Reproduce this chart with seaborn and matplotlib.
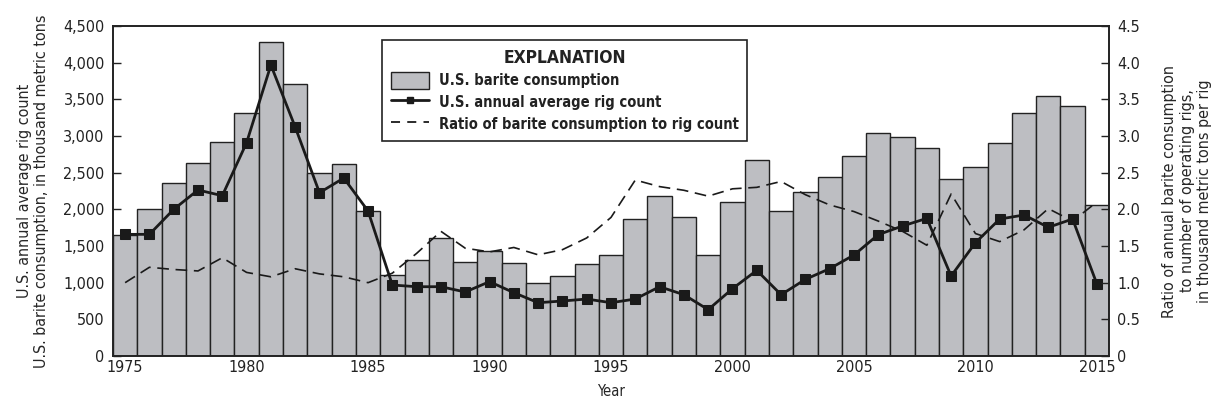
import numpy as np
import pandas as pd
import matplotlib
matplotlib.use('Agg')
import matplotlib.pyplot as plt
import seaborn as sns
from matplotlib import font_manager
from matplotlib.lines import Line2D
from matplotlib.patches import Patch
from matplotlib.ticker import FuncFormatter, MultipleLocator

years = list(range(1975, 2016))
barite = [1650, 2000, 2355, 2627, 2923, 3309, 4277, 3709, 2491, 2623,
          1982, 1100, 1305, 1609, 1282, 1436, 1273, 1000, 1091, 1255,
          1373, 1873, 2182, 1891, 1373, 2105, 2668, 1982, 2232, 2445,
          2727, 3036, 2982, 2841, 2409, 2573, 2909, 3309, 3550, 3405,
          2064]
rigs = [1659, 1659, 2000, 2264, 2186, 2909, 3968, 3123, 2227, 2427,
        1977, 968, 945, 945, 873, 1014, 864, 727, 750, 777,
        727, 777, 945, 836, 632, 918, 1168, 836, 1045, 1191,
        1377, 1655, 1773, 1877, 1091, 1545, 1868, 1923, 1755, 1868,
        982]
ratio = [1.00, 1.21, 1.18, 1.16, 1.34, 1.14, 1.08, 1.19, 1.12, 1.08,
         1.00, 1.13, 1.40, 1.70, 1.47, 1.42, 1.48, 1.38, 1.45, 1.61,
         1.89, 2.40, 2.31, 2.26, 2.18, 2.28, 2.30, 2.38, 2.20, 2.06,
         1.97, 1.84, 1.70, 1.51, 2.21, 1.67, 1.56, 1.72, 2.01, 1.84,
         2.10]

df = pd.DataFrame({'year': years, 'barite': barite, 'rigs': rigs, 'ratio': ratio})

sns.set_theme(style='white')
# condensed face if one is around, like the original's Univers Condensed
names = {f.name for f in font_manager.fontManager.ttflist}
if 'Liberation Sans Narrow' in names:
    plt.rcParams['font.family'] = ['Liberation Sans Narrow', 'DejaVu Sans']
else:
    plt.rcParams['font.family'] = ['DejaVu Sans']
    plt.rcParams['font.stretch'] = 'condensed'
plt.rcParams['text.color'] = '#222222'
bar_color = '#bdbec2'
ink = '#222222'

fig = plt.figure(figsize=(12.32, 4.11), dpi=100)
ax = fig.add_axes([0.0917, 0.1338, 0.8085, 0.8029])

sns.barplot(data=df, x='year', y='barite', native_scale=True, width=1,
            color=bar_color, saturation=1, edgecolor=ink, linewidth=1, ax=ax)
sns.lineplot(data=df, x='year', y='rigs', color='#1a1a1a', linewidth=2,
             marker='s', markersize=7, markeredgecolor='#1a1a1a', ax=ax)

ax2 = ax.twinx()
sns.lineplot(data=df, x='year', y='ratio', color='#1a1a1a', linewidth=1.2,
             linestyle=(0, (7, 4)), ax=ax2)

ax.set_xlim(1974.5, 2015.5)
ax.set_ylim(0, 4500)
ax2.set_ylim(0, 4.5)
ax.set_xticks(range(1975, 2016, 5))
ax.yaxis.set_major_locator(MultipleLocator(500))
ax.yaxis.set_major_formatter(FuncFormatter(lambda v, p: f'{int(v):,}'))
ax2.yaxis.set_major_locator(MultipleLocator(0.5))
ax2.yaxis.set_major_formatter(FuncFormatter(lambda v, p: '0' if v == 0 else f'{v:.1f}'))

for a in (ax, ax2):
    for s in a.spines.values():
        s.set_color(ink)
        s.set_linewidth(1.2)
ax.tick_params(axis='y', direction='in', length=6, width=1, color=ink,
               labelsize=11.5, pad=6, labelcolor=ink)
ax.tick_params(axis='x', length=0, labelsize=11.5, pad=3, labelcolor=ink)
ax2.tick_params(axis='y', direction='in', length=6, width=1, color=ink,
                labelsize=11.5, pad=6, labelcolor=ink)

ax.set_xlabel('Year', fontsize=10.5, labelpad=6)
ax.set_ylabel('U.S. annual average rig count\nU.S. barite consumption, in thousand metric tons',
              fontsize=11.5, labelpad=10)
ax2.set_ylabel('Ratio of annual barite consumption\nto number of operating rigs,\nin thousand metric tons per rig',
               fontsize=11.5, labelpad=16)

handles = [
    Patch(facecolor=bar_color, edgecolor=ink, linewidth=1),
    Line2D([], [], color='#1a1a1a', linewidth=2, marker='s', markersize=5),
    Line2D([], [], color='#1a1a1a', linewidth=1.3, linestyle=(0, (5, 4))),
]
labels = ['U.S. barite consumption', 'U.S. annual average rig count',
          'Ratio of barite consumption to rig count']
leg = ax2.legend(handles, labels, title='EXPLANATION', loc='upper left',
                 bbox_to_anchor=(0.27, 0.958), borderaxespad=0, frameon=True,
                 fancybox=False, edgecolor=ink, framealpha=1, fontsize=10.5,
                 title_fontsize=12.5, handlelength=2.6, handleheight=1.4,
                 borderpad=0.6, labelspacing=0.35, handletextpad=0.7)
leg.get_title().set_fontweight('bold')
for t in leg.get_texts():
    t.set_fontweight('bold')
leg.get_frame().set_linewidth(1.2)

fig.savefig('out.png', dpi=100)
